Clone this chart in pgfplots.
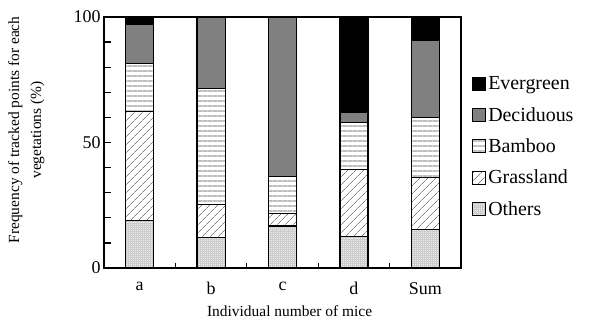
\documentclass[border=0pt]{standalone}
\usepackage{fontspec}
\setmainfont{Liberation Serif}
\usepackage{pgfplots}
\usepackage{pgfplotstable}
\pgfplotsset{compat=1.18}
\usetikzlibrary{patterns.meta}

\pgfplotstableread{
x others grass bamboo decid ever
0 18.8 43.7 19.0 15.7 2.8
1 12.2 13.2 46.0 28.6 0
2 16.7 5.1 14.6 63.6 0
3 12.5 26.8 18.7 4.0 38.0
4 15.4 20.7 23.9 30.8 9.2
}\data

\begin{document}
\begin{tikzpicture}
\useasboundingbox (-104bp,-53bp) rectangle (486bp,268bp);
\begin{axis}[
  scale only axis, width=357bp, height=251bp,
  ybar stacked, bar width=28bp,
  xmin=-0.5, xmax=4.5, ymin=0, ymax=100,
  xtick={0,1,2,3,4}, xticklabels={a,b,c,d,Sum},
  minor xtick={0.5,1.5,2.5,3.5},
  ytick={0,10,...,100}, yticklabels={0,,,,,50,,,,,100},
  xtick pos=bottom, ytick pos=left,
  tick align=inside, major tick length=7bp, minor tick length=5bp,
  axis line style={line width=1.5bp},
  tick style={line width=1.2bp, black},
  every axis plot/.append style={draw=black, line width=1.2bp},
  ticklabel style={font=\fontsize{18}{20}\selectfont},
  xticklabel style={yshift=-11bp},
  /pgf/number format/assume math mode=true,
  xlabel={Individual number of mice},
  ylabel={Frequency of tracked points for each\\vegetations (\%)},
  label style={font=\fontsize{15.5}{22}\selectfont},
  ylabel style={at={(axis description cs:-0.157,0.55)}, anchor=south, align=center},
  xlabel style={at={(axis description cs:0.52,-0.135)}, anchor=north},
  legend style={draw=none, fill=none, at={(1.031,0.77)}, anchor=north west,
    font=\fontsize{20}{22}\selectfont, row sep=12bp, inner sep=0pt,
    /tikz/every even column/.append style={column sep=2bp}},
  legend cell align=left,
  reverse legend,
  legend image code/.code={\draw[#1, line width=1bp] (0bp,-6.5bp) rectangle (13bp,6.5bp);},
]
\addplot[fill=black!7, postaction={pattern={Hatch[distance=2bp, line width=0.3bp]}, pattern color=black!20}] table[x=x,y=others]{\data};
\addplot[fill=white, postaction={pattern={Lines[angle=45,distance=6bp,line width=0.7bp]}, pattern color=black!50}] table[x=x,y=grass]{\data};
\addplot[fill=white, postaction={pattern={Lines[angle=0,distance=5bp,line width=2.5bp]}, pattern color=black!25}] table[x=x,y=bamboo]{\data};
\addplot[fill=black!50] table[x=x,y=decid]{\data};
\addplot[fill=black] table[x=x,y=ever]{\data};
\legend{Others,Grassland,Bamboo,Deciduous,Evergreen}
\end{axis}
\end{tikzpicture}
\end{document}
